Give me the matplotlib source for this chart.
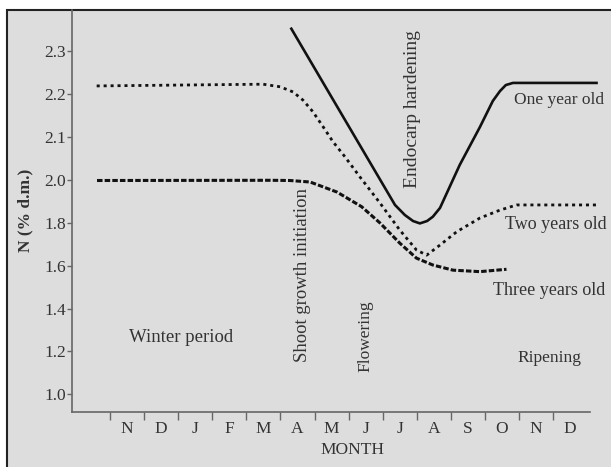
import numpy as np
import matplotlib.pyplot as plt
from matplotlib.patches import Rectangle

plt.rcParams['font.family'] = ['Liberation Serif', 'DejaVu Serif']

# months from November to the following December (one slot per month)
months = ["N", "D", "J", "F", "M", "A", "M", "J", "J", "A", "S", "O", "N", "D"]
y_ticks = [1.0, 1.2, 1.4, 1.6, 1.8, 2.0, 2.1, 2.2, 2.3]

# N content of leaves, position in month slots (0 = start of November)
one_x = [5.30, 8.36, 8.65, 8.89, 9.09, 9.30, 9.47, 9.68, 10.26, 10.85, 11.23, 11.44, 11.61, 11.82, 14.31]
one_y = [2.355, 1.883, 1.836, 1.808, 1.797, 1.808, 1.828, 1.869, 2.035, 2.123, 2.184, 2.207, 2.221, 2.226, 2.226]

two_x = [-0.39, 4.49, 4.99, 5.37, 5.66, 5.95, 6.25, 6.54, 6.89, 7.33, 7.92, 8.50, 8.99, 9.29,
         9.68, 10.17, 10.85, 11.44, 11.93, 14.28]
two_y = [2.219, 2.223, 2.217, 2.205, 2.186, 2.159, 2.124, 2.089, 2.054, 2.007, 1.892, 1.766, 1.673, 1.649,
         1.696, 1.758, 1.822, 1.859, 1.883, 1.883]

three_x = [-0.38, 4.69, 5.28, 5.87, 6.66, 7.38, 7.92, 8.50, 8.99, 9.47, 10.06, 10.85, 11.63]
three_y = [1.997, 1.998, 1.997, 1.990, 1.943, 1.875, 1.799, 1.705, 1.635, 1.603, 1.579, 1.572, 1.583]


# y axis: 0.2 steps below 2.0, 0.1 steps above, same spacing
def fwd(v):
    v = np.asarray(v, dtype=float)
    return np.where(v <= 2.0, (v - 1.0) / 0.2, 5.0 + (v - 2.0) / 0.1)


def inv(t):
    t = np.asarray(t, dtype=float)
    return np.where(t <= 5.0, 1.0 + 0.2 * t, 2.0 + 0.1 * (t - 5.0))


bg = "#dddddd"
txt = "#333333"
ink = "#111111"

fig = plt.figure(figsize=(6.11, 4.67), dpi=100, facecolor="white")
# grey panel with a dark border on the left and top edges
fig.patches.append(Rectangle((7 / 611, -0.1), 1.2, 1.1 - 10 / 467, transform=fig.transFigure,
                             facecolor=bg, edgecolor="#222222", linewidth=1.5, zorder=-10))

ax = fig.add_axes([72 / 611, 55.3 / 467, 518 / 611, 401.7 / 467])
ax.set_zorder(5)
ax.set_facecolor("none")
ax.set_yscale("function", functions=(fwd, inv))
ax.set_xlim(-1.114, 14.08)
ax.set_ylim(0.919, 2.396)

ax.plot(one_x, one_y, color=ink, lw=1.9, clip_on=False, solid_capstyle="butt")
ax.plot(two_x, two_y, color=ink, lw=2.0, linestyle=(0, (1.1, 1.4)), clip_on=False)
ax.plot(three_x, three_y, color=ink, lw=2.2, linestyle=(0, (1.8, 0.7)), clip_on=False)

for s in ["top", "right"]:
    ax.spines[s].set_visible(False)
for s in ["left", "bottom"]:
    ax.spines[s].set_color("#666666")
    ax.spines[s].set_linewidth(1.2)

ax.set_yticks(y_ticks)
ax.set_yticklabels([f"{v:.1f}" for v in y_ticks])
ax.yaxis.set_minor_locator(plt.NullLocator())
ax.tick_params(axis="y", length=3.6, width=1, color="#666666", pad=0.5, labelsize=12.5, labelcolor=txt)

ax.set_xticks(np.arange(len(months)))
ax.set_xticklabels([])
ax.set_xticks(np.arange(len(months)) + 0.5, minor=True)
ax.set_xticklabels(months, minor=True)
ax.tick_params(axis="x", which="major", length=6, width=1, color="#666666")
ax.tick_params(axis="x", which="minor", length=0, pad=7, labelsize=12.5, labelcolor=txt)

ax.set_ylabel("N (% d.m.)", fontsize=12.5, fontweight="bold", color=txt, labelpad=8)
ax.set_xlabel("MONTH", fontsize=12.5, color=txt)
ax.xaxis.set_label_coords(0.5415, -0.075)

# phase annotations
kw = dict(color=txt, clip_on=False)
ax.text(2.08, 1.267, "Winter period", ha="center", va="center", fontsize=13.5, **kw)
ax.text(12.9, 1.17, "Ripening", ha="center", va="center", fontsize=12.5, **kw)
ax.text(5.66, 1.151, "Shoot growth initiation", rotation=90, ha="center", va="bottom", fontsize=13.5, **kw)
ax.text(7.48, 1.104, "Flowering", rotation=90, ha="center", va="bottom", fontsize=12.5, **kw)
ax.text(8.86, 1.962, "Endocarp hardening", rotation=90, ha="center", va="bottom", fontsize=14, **kw)

# curve labels
ax.text(11.85, 2.186, "One year old", ha="left", va="center", fontsize=12.5, **kw)
ax.text(11.58, 1.794, "Two years old", ha="left", va="center", fontsize=13, **kw)
ax.text(11.23, 1.486, "Three years old", ha="left", va="center", fontsize=13, **kw)

fig.savefig("out.png", dpi=100, facecolor="white")
